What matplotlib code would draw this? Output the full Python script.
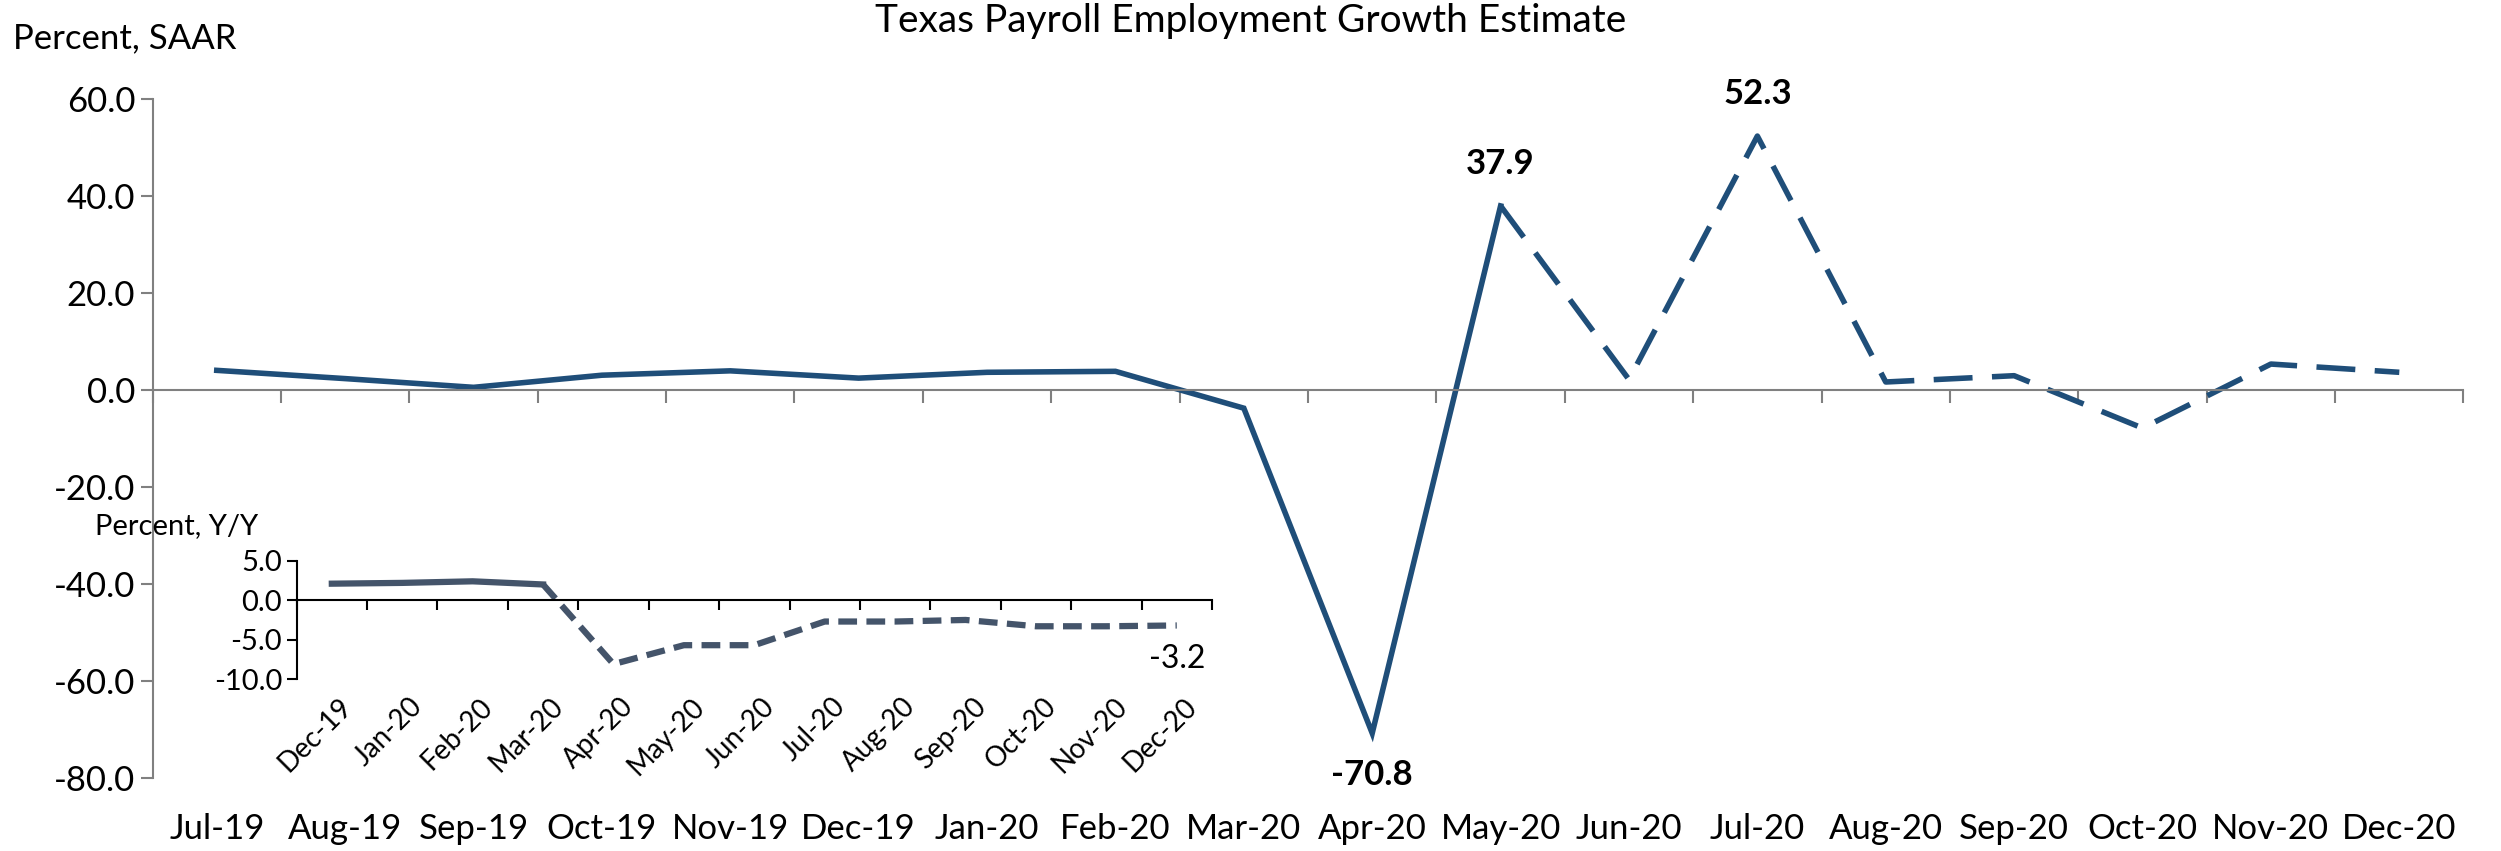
import matplotlib.pyplot as plt
import numpy as np

plt.rcParams['font.family'] = ['Lato', 'DejaVu Sans']

# dados principais (SAAR)
meses = ['Jul-19', 'Aug-19', 'Sep-19', 'Oct-19', 'Nov-19', 'Dec-19', 'Jan-20', 'Feb-20', 'Mar-20',
         'Apr-20', 'May-20', 'Jun-20', 'Jul-20', 'Aug-20', 'Sep-20', 'Oct-20', 'Nov-20', 'Dec-20']
saar = [4.0, 2.3, 0.5, 3.0, 3.9, 2.4, 3.6, 3.8, -3.8, -70.8, 37.9, 2.1, 52.3, 1.6, 2.9, -7.9, 5.3, 3.6]
ultimoReal = 10  # May-20, depois disso estimativa
rotulos = {9: -70.8, 10: 37.9, 12: 52.3}

# dados do gráfico pequeno (Y/Y)
mesesYY = ['Dec-19', 'Jan-20', 'Feb-20', 'Mar-20', 'Apr-20', 'May-20', 'Jun-20', 'Jul-20', 'Aug-20',
           'Sep-20', 'Oct-20', 'Nov-20', 'Dec-20']
yy = [2.1, 2.2, 2.4, 2.0, -8.1, -5.7, -5.7, -2.7, -2.7, -2.5, -3.3, -3.3, -3.2]
ultimoRealYY = 3

corLinha = '#1F4E79'
corInset = '#44546A'
corEixo = '#808080'

fig = plt.figure(figsize=(25.01, 8.51), dpi=100)
ax = fig.add_axes([0.061, 0.086, 0.924, 0.798])

x = np.arange(len(meses))
ax.plot(x[:ultimoReal + 1], saar[:ultimoReal + 1], color=corLinha, lw=4, solid_joinstyle='miter')
ax.plot(x[ultimoReal:], saar[ultimoReal:], color=corLinha, lw=4, dashes=(7, 3.5))

ax.set_xlim(-0.5, len(meses) - 0.5)
ax.set_ylim(-80, 60)
ax.set_yticks(np.arange(-80, 61, 20))
ax.set_yticklabels(['%.1f' % v for v in np.arange(-80, 61, 20)], fontsize=25)
ax.set_xticks(np.arange(-0.5, len(meses), 1))
ax.set_xticklabels([])
ax.spines['top'].set_visible(False)
ax.spines['right'].set_visible(False)
ax.spines['bottom'].set_position(('data', 0))
ax.spines['bottom'].set_color(corEixo)
ax.spines['left'].set_color(corEixo)
ax.spines['bottom'].set_linewidth(1.5)
ax.spines['left'].set_linewidth(1.5)
ax.tick_params(axis='both', color=corEixo, width=1.5, length=9, direction='out')

for i, m in enumerate(meses):
    ax.text(i, -0.075, m, transform=ax.get_xaxis_transform(), ha='center', va='center', fontsize=25)

for i, v in rotulos.items():
    off = -30 if v < 0 else 30
    ax.annotate('%.1f' % v, (i, v), xytext=(0, off), textcoords='offset points',
                ha='center', va='center', fontsize=25, fontweight='bold')

fig.text(0.5, 0.975, 'Texas Payroll Employment Growth Estimate', ha='center', va='center', fontsize=28)
fig.text(0.005, 0.955, 'Percent, SAAR', ha='left', va='center', fontsize=25)

# gráfico pequeno
axi = fig.add_axes([0.1186, 0.202, 0.366, 0.139])
xi = np.arange(len(mesesYY))
axi.plot(xi[:ultimoRealYY + 1], yy[:ultimoRealYY + 1], color=corInset, lw=4.5)
axi.plot(xi[ultimoRealYY:], yy[ultimoRealYY:], color=corInset, lw=4.5, dashes=(3, 1.5))
axi.set_xlim(-0.5, len(mesesYY) - 0.5)
axi.set_ylim(-10, 5)
axi.set_yticks([5, 0, -5, -10])
axi.set_yticklabels(['5.0', '0.0', '-5.0', '-10.0'], fontsize=21)
axi.set_xticks(np.arange(-0.5, len(mesesYY), 1))
axi.set_xticklabels([])
axi.patch.set_alpha(0)
axi.spines['top'].set_visible(False)
axi.spines['right'].set_visible(False)
axi.spines['bottom'].set_position(('data', 0))
axi.spines['bottom'].set_linewidth(1.5)
axi.spines['left'].set_linewidth(1.5)
axi.tick_params(axis='both', width=1.5, length=7, direction='out')
for i, m in enumerate(mesesYY):
    axi.text(i + 0.1, -0.12, m, transform=axi.get_xaxis_transform(), ha='right', va='top',
             rotation=45, rotation_mode='anchor', fontsize=20)
axi.annotate('%.1f' % yy[-1], (xi[-1], yy[-1]), xytext=(0, -24), textcoords='offset points',
             ha='center', va='center', fontsize=23)
fig.text(0.038, 0.382, 'Percent, Y/Y', ha='left', va='center', fontsize=21)

plt.savefig('out.png')
